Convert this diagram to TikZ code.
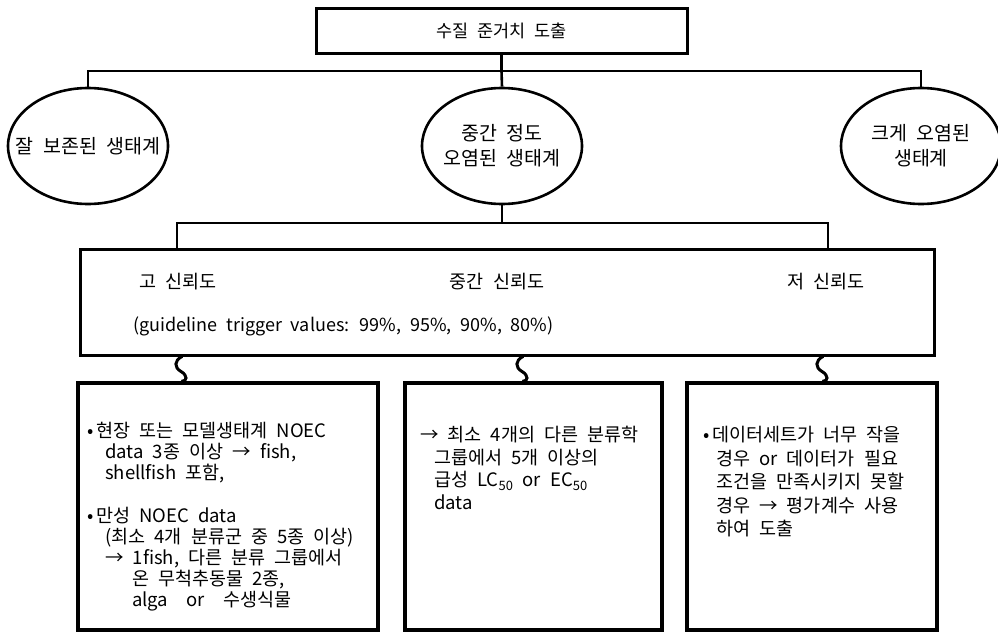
\documentclass[tikz,border=0pt]{standalone}
\usepackage{fontspec}
\setmainfont[WordSpace=2.2]{Noto Sans CJK KR}
\usetikzlibrary{shapes.geometric,calc}
\newcommand\bul{\makebox[9pt][l]{•}}
\begin{document}
\begin{tikzpicture}[x=1pt,y=-1pt,
  frame/.style={draw, line width=3pt, rectangle, inner sep=0pt},
  eco/.style={draw, line width=2.6pt, ellipse, minimum width=160pt, minimum height=116pt, inner sep=0pt},
  ecotext/.style={align=center, inner sep=0pt, font=\fontsize{19.5}{25}\selectfont},
  head/.style={inner sep=0pt, font=\fontsize{18.5}{22}\selectfont},
  bus/.style={line width=2.6pt},
  curl/.style={line width=3pt, line cap=round},
  body/.style={anchor=north west, align=left, inner sep=0pt, font=\fontsize{18.5}{21}\selectfont}
]
\useasboundingbox (0,0) rectangle (998,632);

% title box
\node[frame, minimum width=371pt, minimum height=45pt, font=\fontsize{17.5}{22}\selectfont]
  (top) at (501.5,30.5) {수질 준거치 도출};

% three ecosystem states
\node[eco] (ecoL) at (88,146) {};
\node[eco] (ecoM) at (502,146) {};
\node[eco] (ecoR) at (921,146) {};
\node[ecotext] (tL) at (ecoL.center) {잘 보존된 생태계};
\node[ecotext] (tM) at (ecoM.center) {중간 정도\\오염된 생태계};
\node[ecotext] (tR) at (ecoR.center) {크게 오염된\\생태계};

% reliability box
\node[frame, minimum width=854pt, minimum height=106pt] (mid) at (507,302) {};
\node[head, anchor=west] (hHigh) at (139,282) {고 신뢰도};
\node[head] (hMid) at (497,282) {중간 신뢰도};
\node[head] (hLow) at (826,282) {저 신뢰도};
\node[head, anchor=west, font=\fontsize{18}{22}\selectfont] (gtv) at (133,326)
  {(guideline trigger values: 99\%, 95\%, 90\%, 80\%)};

% data requirement boxes
\node[frame, line width=3.6pt, minimum width=300pt, minimum height=247pt] (lowA) at (228,506.5) {};
\node[frame, line width=3.6pt, minimum width=257pt, minimum height=247pt] (lowB) at (533.5,506.5) {};
\node[frame, line width=3.6pt, minimum width=250pt, minimum height=247pt] (lowC) at (812,506.5) {};

\node[body] (txA) at (87,422) {%
  \bul 현장 또는 모델생태계 NOEC\\
  \hspace*{18pt}data 3종 이상 → fish,\\
  \hspace*{18pt}shellfish 포함,\\[22pt]
  \bul 만성 NOEC data\\
  \hspace*{18pt}(최소 4개 분류군 중 5종 이상)\\
  \hspace*{18pt}→ 1fish, 다른 분류 그룹에서\\
  \hspace*{45pt}온 무척추동물 2종,\\
  \hspace*{45pt}alga\ \ or\ \ 수생식물};

\node[body, font=\fontsize{18.5}{22.5}\selectfont] (txB) at (420,426) {%
  → 최소 4개의 다른 분류학\\
  \hspace*{14pt}그룹에서 5개 이상의\\
  \hspace*{14pt}급성 LC\textsubscript{50} or EC\textsubscript{50}\\
  \hspace*{14pt}data};

\node[body, font=\fontsize{18.5}{23.5}\selectfont] (txC) at (703,426) {%
  \bul 데이터세트가 너무 작을\\
  \hspace*{13pt}경우 or 데이터가 필요\\
  \hspace*{13pt}조건을 만족시키지 못할\\
  \hspace*{13pt}경우 → 평가계수 사용\\
  \hspace*{13pt}하여 도출};

% tree connectors
\coordinate (busA) at (0,71);
\coordinate (busB) at (0,223);
\coordinate (tie1) at (177,0);
\coordinate (tie2) at (828,0);
\draw[bus] (top.south) -- (top.south |- busA);
\draw[bus] (ecoL.north) -- (ecoL.north |- busA) -- (ecoR.north |- busA) -- (ecoR.north);
\draw[bus] (top.south |- busA) -- (ecoM.north);
\draw[bus] (ecoM.south) -- (ecoM.south |- busB);
\draw[bus] (tie1 |- mid.north) -- (tie1 |- busB) -- (tie2 |- busB) -- (tie2 |- mid.north);

% twisted links from the reliability box to the data boxes
\coordinate (q1) at (182,0);
\coordinate (q2) at (523,0);
\coordinate (q3) at (823,0);
\foreach \q/\b in {q1/lowA, q2/lowB, q3/lowC}{
  \coordinate (s) at (\q |- mid.south);
  \draw[curl] (s) .. controls ($(s)+(-8,4)$) and ($(s)+(-8,11)$) .. ($(s)+(-1,15)$)
     .. controls ($(s)+(6,19)$) and ($(s)+(5,25)$) .. (\q |- \b.north);
}
\end{tikzpicture}
\end{document}
